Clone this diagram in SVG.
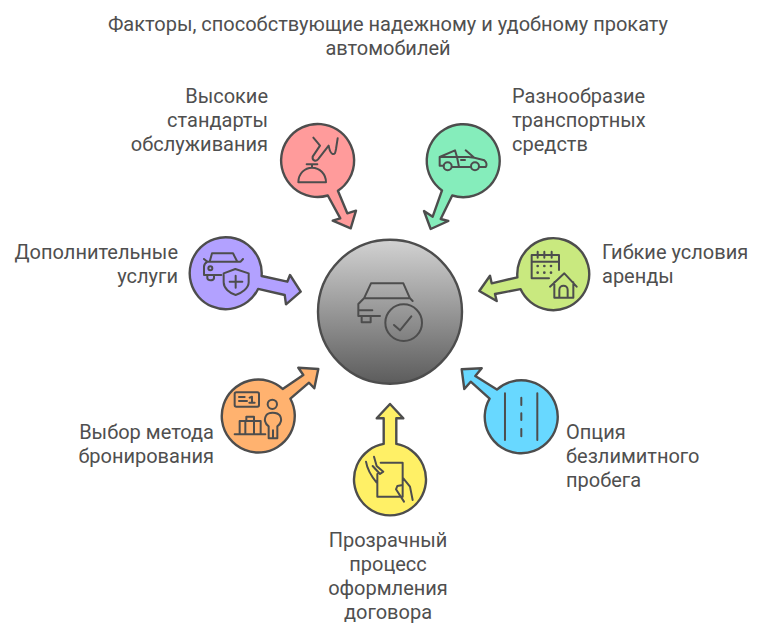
<svg xmlns="http://www.w3.org/2000/svg" width="768" height="636" viewBox="0 0 768 636">
<style>
text{font-family:Roboto,"Liberation Sans",sans-serif;font-size:20px;fill:#4f4f4f}
.m{text-anchor:middle}.e{text-anchor:end}
.s{stroke:#4d4d4d;stroke-width:2.4;stroke-linejoin:round}
.i{fill:none;stroke:#4d4d4d;stroke-width:6;stroke-linecap:round;stroke-linejoin:round}
</style>
<defs><linearGradient id="g" x1="0" y1="0" x2="0" y2="1"><stop offset="0" stop-color="#d2d2d2"/><stop offset="1" stop-color="#5c5c5c"/></linearGradient></defs>
<g id="title"><text class="m" x="388" y="31">Факторы, способствующие надежному и удобному прокату</text><text class="m" x="388" y="55">автомобилей</text></g>
<g id="center"><circle class="s" cx="390" cy="311.7" r="72" fill="url(#g)"/>
<g transform="translate(310,235) scale(.3333)"><path class="i" d="M162,190 L183,145 H280 L300,190 L308,198 M162,190 H300 M162,190 L145,207 V243 H210 M145,226 H187 M155,243 V262 H182 V243"/><circle class="i" cx="281" cy="263" r="55"/><path class="i" d="M252,270 L270,286 L304,244"/></g></g>
<g id="node-service"><path class="s" fill="#ff9b9b" d="M337.9,190.8 L347.3,213.3 L356,210.7 L350.7,228.3 L332.7,220.7 L340.3,218.3 L327.8,195.5 A36.5,36.5 0 1 1 337.9,190.8 Z"/>
<g transform="translate(290,125) scale(.3333)"><path class="i" d="M25,172 C25,145 45,128 66,128 C90,128 108,148 108,172 Z M50,118 H82 M66,118 V128 M70,38 C76,45 82,52 90,62 L68,95 C66,108 78,110 84,103 L116,62 C118,72 120,85 128,87 C136,88 136,82 138,72 L143,40"/></g>
<g><text class="e" x="268" y="102.500">Высокие</text><text class="e" x="268" y="126.500">стандарты</text><text class="e" x="268" y="150.500">обслуживания</text></g></g>
<g id="node-variety"><path class="s" fill="#85edbb" d="M452.2,195.5 L440.7,219 L448.3,221 L430.7,229 L424,211 L432.7,216.7 L442,190.4 A36.5,36.5 0 1 1 452.2,195.5 Z"/>
<g transform="translate(435,135) scale(.3333)"><path class="i" d="M26,92 H14 V66 L60,46 L66,66 M14,66 H100 L118,68 L148,76 C156,82 156,92 152,96 H134 M106,96 H52 M66,66 L72,96 M78,75 H90 M92,46 L118,68"/><circle class="i" cx="38" cy="94" r="12"/><circle class="i" cx="120" cy="94" r="12"/></g>
<g><text x="512" y="102.500">Разнообразие</text><text x="512" y="126.500">транспортных</text><text x="512" y="150.500">средств</text></g></g>
<g id="node-extras"><path class="s" fill="#b2a1ff" d="M261.6,276 L287.3,281.7 L290,275 L300.7,291.7 L286,304.3 L284.7,295 L258.1,288.9 A36,36 0 1 1 261.6,276 Z"/>
<g transform="translate(198,245) scale(.3333)"><path class="i" d="M35,50 L42,25 H105 L118,50 M18,42 L28,50 H128 L135,42 M28,50 C20,55 18,60 18,65 V90 H70 M28,92 V100 C30,108 45,108 48,100 V90 M77,85 L112,72 L152,85 V112 C152,130 130,145 113,150 C95,145 77,130 77,112 Z M113,92 V128 M95,110 H133"/><circle class="i" cx="37" cy="70" r="6"/></g>
<g><text class="e" x="178" y="258.500">Дополнительные</text><text class="e" x="178" y="283">услуги</text></g></g>
<g id="node-terms"><path class="s" fill="#c9e97f" d="M520.5,289.1 L495,294 L496.7,301 L479.3,291 L490,275.7 L491.7,283.3 L517.4,277.4 A36,36 0 1 1 520.5,289.1 Z"/>
<g transform="translate(525,245) scale(.3333)"><path class="i" d="M72,100 H20 V30 H102 V75 M20,50 H102 M38,20 V38 M58,20 V38 M80,20 V38 M75,125 L118,85 L155,125 M88,112 V158 H145 V112 M103,158 V135 C103,118 128,118 128,135 V158"/><g fill="#4d4d4d"><circle cx="38" cy="63" r="4"/><circle cx="58" cy="63" r="4"/><circle cx="78" cy="63" r="4"/><circle cx="38" cy="83" r="4"/><circle cx="58" cy="83" r="4"/><circle cx="78" cy="83" r="4"/></g></g>
<g><text x="602" y="258.500">Гибкие условия</text><text x="602" y="283">аренды</text></g></g>
<g id="node-booking"><path class="s" fill="#ffb26f" d="M282.7,388.9 L303.3,375 L298.3,367.7 L318.3,369 L314.3,388.3 L309,382.7 L290.400,398.7 A36.5,36.5 0 1 1 282.7,388.9 Z"/>
<g transform="translate(228,385) scale(.3333)"><rect class="i" x="20" y="22" width="73" height="43" rx="5"/><path class="i" d="M33,36 H50 M33,48 H57 M65,38 L72,35 V52 M64,53 H80 M20,148 H112 M35,148 V108 H98 V148 M55,108 V95 H78 V108 M52,110 V146 M78,110 V146 M122,160 V124 C110,116 108,102 114,92 C120,80 148,80 156,92 C162,102 160,116 148,124 V160 H122 M135,160 V136"/><circle class="i" cx="133" cy="58" r="14"/></g>
<g><text class="e" x="214" y="438.500">Выбор метода</text><text class="e" x="214" y="462.500">бронирования</text></g></g>
<g id="node-contract"><path class="s" fill="#fff066" d="M383.7,443.9 V418.3 H376.7 L390,404 L403.3,418.3 H396.300 V443.9 A36,36 0 1 1 383.7,443.9 Z"/>
<g transform="translate(360,450) scale(.3333)"><path class="i" d="M62,38 H128 V140 H52 V72 M18,35 C22,60 35,80 50,98 M42,20 L50,48 L70,65 L60,72 L38,48 M128,105 L112,108 L108,118 L132,155 M130,85 L150,110 L158,150"/></g>
<g><text class="m" x="388" y="546.500">Прозрачный</text><text class="m" x="388" y="570.500">процесс</text><text class="m" x="388" y="594.500">оформления</text><text class="m" x="388" y="618.500">договора</text></g></g>
<g id="node-mileage"><path class="s" fill="#68d8ff" d="M489.6,398.6 L470.7,381.7 L464.3,389 L461.7,369.3 L481.7,368.3 L475.3,376 L496.9,389.6 A36.5,36.5 0 1 1 489.6,398.6 Z"/>
<g transform="translate(310,235) scale(.3333)"><path class="i" d="M585,475 V615 M682,475 V615 M634,488 V510 M634,535 V555 M634,582 V604"/></g>
<g><text x="566" y="438.500">Опция</text><text x="566" y="462.500">безлимитного</text><text x="566" y="486.500">пробега</text></g></g>
<g id="connectors"></g>
</svg>
